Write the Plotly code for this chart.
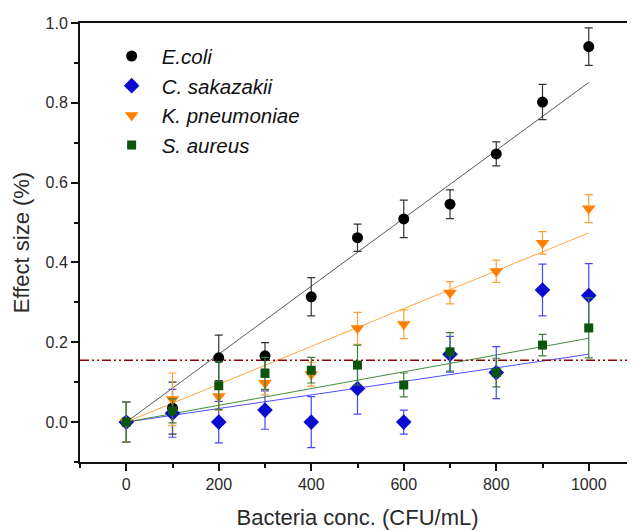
import plotly.graph_objects as go

conc = [0, 100, 200, 300, 400, 500, 600, 700, 800, 900, 1000]

ecoli = [0.0, 0.035, 0.161, 0.166, 0.314, 0.462, 0.509, 0.546, 0.672, 0.802, 0.941]
ecoli_err = [0.05, 0.065, 0.057, 0.033, 0.048, 0.034, 0.047, 0.036, 0.03, 0.044, 0.047]

csak = [0.0, 0.022, 0.0, 0.03, 0.0, 0.084, 0.0, 0.17, 0.124, 0.331, 0.317]
csak_err = [0.05, 0.06, 0.052, 0.048, 0.064, 0.064, 0.03, 0.045, 0.065, 0.065, 0.08]

kpn = [0.0, 0.057, 0.065, 0.098, 0.12, 0.235, 0.245, 0.324, 0.378, 0.449, 0.535]
kpn_err = [0.05, 0.066, 0.035, 0.03, 0.03, 0.04, 0.036, 0.028, 0.028, 0.028, 0.035]

saur = [0.0, 0.028, 0.091, 0.122, 0.13, 0.143, 0.093, 0.176, 0.124, 0.193, 0.236]
saur_err = [0.05, 0.03, 0.06, 0.04, 0.032, 0.05, 0.03, 0.048, 0.036, 0.027, 0.075]

# linear fit lines: value at conc 0 and at conc 1000
fit_x = [0, 1000]
fit_ecoli = [0.0, 0.851]
fit_csak = [0.0, 0.170]
fit_kpn = [0.0, 0.474]
fit_saur = [0.0, 0.210]

threshold = 0.155

names = ["<i>E.coli</i>", "<i>C. sakazakii</i>", "<i>K. pneumoniae</i>", "<i>S. aureus</i>"]
series = [ecoli, csak, kpn, saur]
errs = [ecoli_err, csak_err, kpn_err, saur_err]
fits = [fit_ecoli, fit_csak, fit_kpn, fit_saur]
colors = ["#000000", "#0a0ad0", "#ff8000", "#0b560b"]
err_colors = ["#333333", "#4646ff", "#ffa030", "#3d7d3d"]
line_colors = ["#5a5a5a", "#4e4eff", "#ffa640", "#3f8f3f"]
symbols = ["circle", "diamond", "triangle-down", "square"]
sizes = [11, 12, 12, 9]

fig = go.Figure()

for fy, lc in zip(fits, line_colors):
    fig.add_trace(go.Scatter(x=fit_x, y=fy, mode="lines", line=dict(color=lc, width=1),
                             showlegend=False, hoverinfo="skip"))

fig.add_trace(go.Scatter(x=[-100, 1100], y=[threshold, threshold], mode="lines",
                         line=dict(color="#8b0000", width=1.6, dash="9px,3px,2px,3px,2px,3px"),
                         showlegend=False, hoverinfo="skip"))

for i in range(4):
    fig.add_trace(go.Scatter(
        x=conc, y=series[i], mode="markers", name=names[i],
        marker=dict(symbol=symbols[i], size=sizes[i], color=colors[i], line=dict(width=0)),
        error_y=dict(type="data", array=errs[i], color=err_colors[i], thickness=1.2, width=4),
    ))

# the page puts the figure 8px in from the top-left corner
fig.update_layout(
    width=627, height=522,
    margin=dict(l=72, r=0, t=15, b=68),
    paper_bgcolor="white", plot_bgcolor="white",
    font=dict(family="Liberation Sans, Arial, sans-serif", color="#2a2a2a", size=16),
    legend=dict(x=0.039, y=0.97, xanchor="left", yanchor="top", bgcolor="rgba(0,0,0,0)",
                font=dict(size=20.5, color="#111111"), itemwidth=50, tracegroupgap=0),
    xaxis=dict(range=[-100, 1100], showgrid=False, zeroline=False, showline=True,
               linecolor="#111111", linewidth=2, mirror=True, automargin=False,
               ticks="outside", tickvals=[0, 200, 400, 600, 800, 1000], ticklen=7, tickwidth=2,
               tickcolor="#111111",
               minor=dict(ticks="outside", dtick=100, tick0=0, ticklen=4, tickwidth=1.5, tickcolor="#111111"),
               title=dict(text="Bacteria conc. (CFU/mL)", font=dict(size=22), standoff=17)),
    yaxis=dict(range=[-0.1, 1.0], showgrid=False, zeroline=False, showline=True,
               linecolor="#111111", linewidth=2, automargin=False,
               ticks="outside", tickvals=[0, 0.2, 0.4, 0.6, 0.8, 1.0], tickformat=".1f",
               ticklen=7, tickwidth=2, tickcolor="#111111",
               minor=dict(ticks="outside", dtick=0.1, tick0=0, ticklen=4, tickwidth=1.5, tickcolor="#111111"),
               title=dict(text="Effect size (%)", font=dict(size=22), standoff=10)),
)

fig.write_html("out.html")
